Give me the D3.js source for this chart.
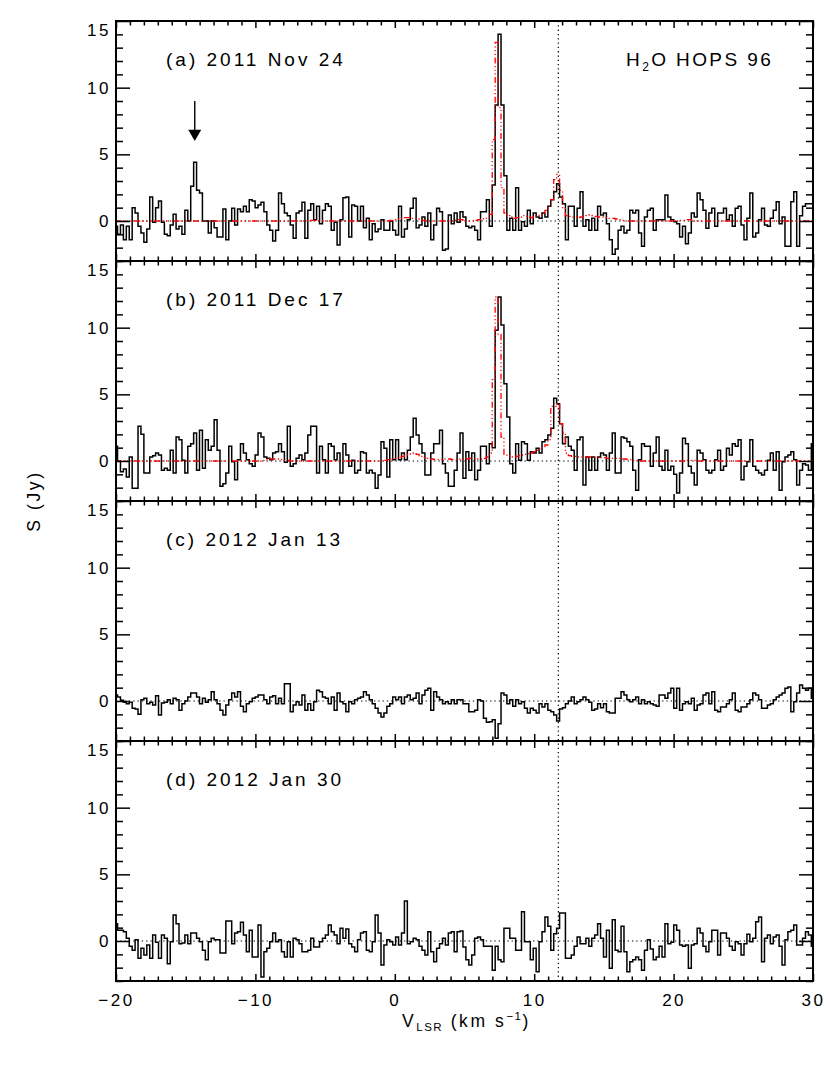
<!DOCTYPE html>
<html>
<head>
<meta charset="utf-8">
<script src="https://cdn.jsdelivr.net/npm/d3@7"></script>
<style>
  body { margin: 0; background: #fff; }
  text { font-family: "Liberation Sans", Arial, sans-serif; }
</style>
</head>
<body>
<div id="chart"></div>
<script>
// channel grid of the spectra (km/s): left edge of first channel and width
var chanStart = -20.1, chanWidth = 0.21;

// panel labels
var panelLabels = ["(a) 2011 Nov 24", "(b) 2011 Dec 17", "(c) 2012 Jan 13", "(d) 2012 Jan 30"];

// observed flux density (Jy) per channel
var specA = [
  -0.4, -1.0, -0.3, -1.4, -0.4, -1.4, 1.0, 0.6, -0.4, -0.9,
  -1.6, -0.6, 1.8, -0.1, 1.0, 1.5, -0.1, -1.0, -1.1, -0.3,
  0.5, -0.6, -0.4, -1.0, 0.8, 0.0, 2.6, 4.4, 2.3, 2.1,
  0.0, 0.0, -0.9, 0.0, -0.5, -1.2, -1.2, 0.9, -1.4, 0.0,
  0.95, -0.3, 0.9, 0.7, 1.1, 0.7, 1.6, 1.5, 1.0, 1.2,
  1.4, 0.7, -0.3, -0.7, -1.5, -0.7, 2.1, 1.3, 0.6, 0.4,
  -0.3, -1.3, 0.6, 0.75, 1.4, -1.3, 0.8, 1.3, 0.1, 1.1,
  -0.2, 0.8, 1.3, 1.1, -0.7, -0.1, -1.8, 0.1, 1.75, 1.8,
  -1.2, 1.2, 1.1, 0.0, 1.1, -0.5, 0.2, -1.4, -0.2, -0.8,
  -0.6, 0.1, -0.7, -0.7, 0.0, -0.7, -1.05, 1.1, -1.2, -0.6,
  0.1, 0.95, 1.7, -0.5, -0.3, 0.3, -0.4, 0.6, -1.4, -0.3,
  0.95, 0.7, -2.2, -2.1, 0.45, -0.2, 0.6, -0.1, 0.7, 0.3,
  -0.4, -0.5, -0.4, -0.7, -1.4, 0.7, 0.7, 1.6, -0.4, 2.7,
  8.7, 14.0, 8.7, 3.4, -0.7, 0.2, -0.7, 2.5, -0.7, -0.05,
  -0.4, 0.8, -0.2, 0.6, 0.3, 0.2, 0.6, 0.3, 1.1, 1.6,
  2.2, 2.8, 1.8, 1.3, -1.4, 1.1, 1.1, -0.4, 0.95, 2.2,
  -0.4, 0.1, -0.7, 0.2, -0.7, 1.1, 0.45, 0.6, -0.2, -1.4,
  -2.5, -2.1, -0.7, -0.4, -0.9, -0.7, 0.8, 0.6, 0.8, -0.9,
  -1.9, 0.3, 0.8, 0.95, -0.7, 0.1, 0.1, 0.1, 1.95, 0.3,
  0.1, -0.05, -0.2, -1.2, -0.4, -1.7, -0.9, 0.6, 0.3, 2.1,
  1.6, 0.8, -0.55, 0.6, 0.95, -0.4, 0.6, 0.6, 0.95, 0.1,
  0.45, -0.4, 0.95, 1.1, -0.3, -1.4, 0.2, 2.1, -1.2, -0.9,
  0.1, 0.95, -0.3, -0.4, 0.2, 0.8, 1.45, -0.2, 0.3, -1.9,
  -1.9, 1.45, 2.2, -1.9, 0.4, 1.1, 1.3, 1.3, 1.3
];
var specB = [
  1.1, 0.0, -0.8, -0.6, -1.2, 0.3, -2.05, -2.05, 2.6, 2.0,
  -0.9, -0.9, 0.3, 0.4, 0.6, 0.45, -0.7, -0.55, -0.7, 0.8,
  -0.9, 1.8, 1.6, 0.05, -0.9, 1.1, 1.3, 2.1, -0.7, 2.3,
  -0.55, 1.6, 0.8, 1.1, 3.1, 0.8, -1.9, -1.7, -0.9, 1.1,
  -0.05, -1.4, 0.1, 1.3, 0.6, 0.1, -0.2, -0.4, 0.45, 2.1,
  1.8, 0.3, 0.2, 0.1, 0.6, 0.7, 1.3, 0.7, -0.1, 2.6,
  -0.4, -0.2, 0.2, 0.45, 0.1, 0.6, 1.95, 2.6, 2.6, -0.9,
  1.1, 0.1, -0.9, 1.3, 1.1, 0.1, 0.6, -0.9, 1.3, 0.45,
  -0.4, 0.05, -0.9, -0.7, 0.7, 0.6, -0.9, -0.7, -0.9, -2.05,
  -1.05, 1.45, 0.95, -1.2, 1.6, 0.1, 1.6, 0.1, 0.6, 0.1,
  0.8, 1.8, 3.2, 1.95, 1.3, 0.6, -1.05, -1.05, 0.6, 1.3,
  1.3, 2.3, -0.2, -0.9, -1.9, -1.9, -0.7, 0.6, 2.1, -1.3,
  0.7, -0.7, 0.6, -1.4, -0.7, 1.1, 1.1, -0.2, 1.3, 1.0,
  9.8, 12.3, 10.2, 5.8, 3.3, -0.2, -0.9, 1.3, 0.05, 1.45,
  1.3, 0.05, 0.7, 0.6, 0.95, 0.6, 1.45, 1.6, 1.95, 2.45,
  4.7, 4.3, 2.8, 1.3, 1.8, 1.1, 0.8, -0.7, 1.6, 1.8,
  -1.8, 0.3, -0.7, 0.3, -0.7, 0.3, 0.6, 0.45, -0.7, 0.6,
  2.1, -0.9, -0.9, 1.8, 1.7, 1.45, 1.1, -0.7, -2.2, 0.1,
  1.3, 1.1, 1.1, -0.4, 0.6, 1.8, -0.4, -0.7, 0.8, -0.7,
  -0.4, -1.0, -2.4, -0.9, 1.7, 1.3, -0.4, -0.9, -1.8, 0.8,
  0.6, 0.1, -0.7, -0.9, -0.7, 0.1, 0.8, -0.7, -0.4, 0.95,
  0.45, 1.3, 1.1, 1.6, -1.4, -0.4, -0.05, 1.6, -0.4, -0.7,
  -0.9, -1.05, -0.7, 0.05, 0.6, -0.7, 0.7, -2.2, -0.05, 0.3,
  0.45, 0.7, 0.1, -1.8, -0.7, -0.2, -0.3, -0.7, 1.3
];
var specC = [
  0.45, 0.3, 0.05, -0.1, -0.2, -0.1, -0.55, -0.6, -1.0, 0.1,
  0.2, -0.2, -0.1, -0.3, 0.4, -1.05, -0.15, -0.1, 0.1, -0.2,
  0.2, 0.1, -0.7, -0.2, 0.0, 0.3, 0.6, 0.6, 0.3, -0.2,
  0.2, -0.1, 0.1, 0.7, 0.1, -0.2, -0.7, -1.05, -0.3, 0.1,
  0.6, 0.3, 0.7, -0.4, -0.8, -0.2, -0.05, 0.2, 0.3, 0.45,
  0.45, 0.1, -0.2, 0.3, 0.4, -0.2, 0.2, -0.2, 1.3, 1.3,
  -0.8, -0.3, -0.05, -0.3, 0.45, -0.7, -0.2, -0.7, -0.05, 0.8,
  0.7, 0.3, 0.2, -0.2, 0.3, -0.7, 0.6, -0.05, -0.2, -0.8,
  -0.05, -0.2, 0.1, 0.2, 0.3, 0.7, 0.45, 0.1, -0.2, -0.55,
  -0.9, -1.2, -0.9, -0.4, -0.2, 0.3, 0.1, 0.3, -0.2, 0.3,
  0.45, 0.1, 0.2, 0.6, -0.2, 0.45, 0.8, 0.95, -0.7, 0.7,
  0.3, 0.1, -0.2, -0.05, -0.2, 0.1, -0.2, 0.1, 0.1, -0.2,
  -0.2, -0.8, -0.8, -0.7, 0.1, 0.0, -1.3, -1.6, -1.55, -1.4,
  -2.8, -1.7, 0.6, 0.45, -0.2, 0.1, -0.4, 0.1, -0.2, -0.05,
  -0.55, -0.9, -0.55, -0.7, -0.9, -0.2, -0.45, -0.2, -0.7, -0.8,
  -1.05, -1.5, -0.6, -0.5, -0.2, 0.0, 0.3, -0.2, -0.05, 0.1,
  0.3, 0.1, -0.1, -0.7, -0.6, -0.2, -0.5, -0.2, -0.8, -0.9,
  -0.9, 0.2, 0.2, 0.7, 0.45, 0.1, -0.05, 0.1, 0.3, -0.2,
  0.1, -0.2, -0.05, -0.2, -0.3, -0.4, 0.45, 0.45, 0.2, 0.6,
  0.95, -0.55, 0.95, -0.7, -0.2, -0.05, -0.2, 0.2, -0.7, -0.3,
  -0.2, 0.45, 0.6, -0.2, 0.7, -0.7, -0.8, -0.45, -0.45, -0.2,
  0.1, 0.6, -0.7, -0.8, -0.45, -0.45, -0.2, 0.1, 0.6, 0.45,
  0.1, -0.55, -0.55, -0.3, -0.2, 0.1, 0.3, 0.45, 0.6, 0.95,
  1.05, -0.8, -0.05, 0.6, 1.2, 0.95, 0.8, 0.95, 0.2
];
var specD = [
  1.3, 0.8, 0.8, 0.7, 0.2, -0.4, -0.7, 0.1, -1.3, -0.55,
  -1.05, -0.3, -1.3, 0.45, -0.1, -1.3, 0.45, 0.2, -1.7, -0.05,
  1.95, 1.3, -0.2, -0.15, 0.45, -0.2, 0.6, 0.6, 0.2, -0.05,
  -0.7, -1.4, -0.05, 0.2, 0.1, 0.1, -0.9, -0.9, 1.5, 1.5,
  -0.2, 0.6, 0.7, 1.4, 0.45, -0.8, 0.8, -1.2, -1.2, 1.2,
  -2.7, -0.8, -0.55, -0.05, 0.6, -0.05, 0.1, -0.8, -1.2, -0.05,
  -1.2, 0.2, 0.1, -0.2, -0.8, -0.8, -0.7, 0.2, -0.45, -0.45,
  -0.05, 0.2, 0.45, 1.2, 0.7, 0.45, -0.2, 0.95, 0.2, 0.9,
  -0.2, -0.45, -0.8, 0.1, 0.6, 0.7, -0.7, -0.8, -0.05, 1.95,
  0.6, -1.8, -0.3, 0.1, -0.05, -0.3, 0.3, -0.3, 0.6, 3.0,
  -0.2, -0.05, 0.2, 0.1, -0.4, -0.7, -1.05, 0.7, -0.8, -1.55,
  -0.55, -0.2, 0.2, -0.3, 0.6, 0.7, -0.8, 0.7, 0.75, -0.45,
  -1.4, -1.8, -1.05, 0.2, 0.3, 0.1, -0.4, -0.4, -0.4, -2.2,
  -0.4, -1.4, -1.55, 0.95, 0.95, 0.2, 0.2, -0.7, -0.7, 2.2,
  -0.05, -0.05, -1.4, -0.55, -2.3, -0.05, 0.7, 1.8, 1.1, -0.7,
  0.55, 0.95, 2.1, 2.1, -1.3, -1.3, -1.05, -0.4, 0.3, -0.2,
  -0.2, 0.2, -0.4, 0.2, 0.45, 1.3, 0.2, -1.2, 0.8, -2.05,
  1.6, -0.7, -0.8, 1.1, -0.8, -2.3, -1.55, -1.4, -1.2, -1.4,
  -2.2, -0.7, 0.1, -0.6, -1.4, -1.2, -0.4, -1.2, 1.3, -0.2,
  -0.1, 1.2, 0.8, -0.3, -0.4, -0.3, -2.05, -0.3, -0.2, 0.95,
  0.6, -0.4, -0.8, -0.05, 0.8, 0.8, -1.05, 0.6, 0.6, 0.2,
  -0.4, -0.7, -0.05, -0.2, -1.05, -0.2, 0.5, -0.05, 0.2, 1.45,
  1.8, -1.55, 0.2, 0.45, -0.2, 0.3, 0.45, -0.4, -1.8, 0.1,
  0.7, 0.8, 1.2, -0.3, -0.3, 0.2, 0.7, 0.45, -0.4
];

// red model spectra for (a) and (b)
var modelA = [
  0, 0, 0, 0, 0, 0, 0, 0, 0, 0,
  0, 0, 0, 0, 0, 0, 0, 0, 0, 0,
  0, 0, 0, 0, 0, 0, 0, 0, 0, 0,
  0, 0, 0, 0, 0, 0, 0, 0, 0, 0,
  0, 0, 0, 0, 0, 0, 0, 0, 0, 0,
  0, 0, 0, 0, 0, 0, 0, 0, 0, 0,
  0, 0, 0, 0, 0, 0, 0, 0.05, 0.05, 0.05,
  0.05, 0, 0, 0, 0, 0, 0, 0, 0, 0,
  0, 0, 0, 0, 0, 0, 0, 0, 0, 0,
  0, 0, 0, 0, 0.05, 0.1, 0.15, 0.2, 0.2, 0.25,
  0.25, 0.2, 0.2, 0.15, 0.1, 0.05, 0, 0, 0, 0,
  0, 0, 0, 0, 0, 0, 0.05, 0.1, 0.1, 0.05,
  0, 0, 0, 0.05, 0.1, 0.1, 0.15, 0.2, 0.5, 6.1,
  13.4, 8.5, 2.5, 0.6, 0.4, 0.3, 0.2, 0.25, 0.3, 0.4,
  0.35, 0.3, 0.25, 0.3, 0.4, 0.5, 0.6, 0.8, 1.1, 1.6,
  3.1, 3.5, 2.3, 1.0, 0.4, 0.35, 0.3, 0.3, 0.25, 0.3,
  0.35, 0.4, 0.45, 0.4, 0.35, 0.3, 0.3, 0.25, 0.2, 0.2,
  0.2, 0.15, 0.1, 0.05, 0, 0, 0, 0, 0, 0,
  0, 0, 0, 0, 0, 0, 0, 0, 0, 0,
  0, 0, 0, 0.05, 0.05, 0.1, 0.1, 0.05, 0, 0,
  0, 0, 0, 0, 0, 0, 0, 0, 0, 0,
  0, 0, 0, 0, 0, 0, 0, 0, 0, 0,
  0, 0, 0, 0, 0, 0, 0, 0, 0, 0,
  0, 0, 0, 0, 0, 0, 0, 0, 0
];
var modelB = [
  0, 0, 0, 0, 0, 0, 0, 0, 0, 0,
  0, 0, 0, 0, 0, 0, 0, 0, 0, 0,
  0, 0, 0, 0, 0, 0, 0, 0, 0, 0,
  0, 0, 0, 0, 0, 0, 0, 0, 0, 0,
  0, 0, 0, 0, 0, 0, 0, 0, 0, 0,
  0.05, 0.1, 0.1, 0.15, 0.15, 0.15, 0.1, 0.1, 0.05, 0.05,
  0, 0, 0, 0, 0, 0, 0, 0, 0, 0,
  0, 0, 0, 0, 0, 0, 0, 0, 0, 0,
  0, 0, 0, 0, 0, 0, 0, 0, 0, 0,
  0, 0, 0.05, 0.1, 0.15, 0.2, 0.25, 0.3, 0.35, 0.45,
  0.5, 0.55, 0.6, 0.5, 0.35, 0.25, 0.2, 0.15, 0.15, 0.1,
  0.1, 0.1, 0.15, 0.15, 0.15, 0.1, 0.1, 0.1, 0.15, 0.15,
  0.15, 0.2, 0.2, 0.2, 0.15, 0.15, 0.2, 0.3, 0.6, 6.1,
  12.3, 9.5, 1.8, 0.5, 0.4, 0.3, 0.3, 0.35, 0.4, 0.45,
  0.5, 0.55, 0.6, 0.7, 0.8, 0.9, 1.0, 1.2, 1.6, 4.1,
  4.1, 4.3, 2.8, 2.1, 0.6, 0.4, 0.35, 0.35, 0.3, 0.3,
  0.3, 0.3, 0.3, 0.3, 0.3, 0.3, 0.25, 0.25, 0.2, 0.2,
  0.2, 0.2, 0.2, 0.15, 0.15, 0.1, 0.1, 0.05, 0.05, 0,
  0, 0, 0, 0, 0, 0, 0, 0, 0, 0,
  0, 0, 0, 0, 0, 0.05, 0.05, 0.05, 0.05, 0,
  0, 0, 0, 0, 0, 0, 0, 0, 0, 0,
  0, 0, 0, 0, 0, 0, 0, 0, 0, 0,
  0, 0, 0, 0, 0, 0, 0, 0, 0, 0,
  0, 0, 0, 0, 0, 0, 0, 0, 0
];

var spectra = [specA, specB, specC, specD];
var models = [modelA, modelB, null, null];

var xMajor = [-20, -10, 0, 10, 20, 30];
var yMajor = [0, 5, 10, 15];
var vMark = 11.73;        // dotted reference velocity
var vArrow = -14.35;      // arrow in panel (a)

// set the dimensions and margins of the graph
var margin = { top: 21, left: 116 },
    width = 697,
    panelH = 240;

var svg = d3.select("#chart")
    .append("svg")
    .attr("width", 830)
    .attr("height", 1068);

var x = d3.scaleLinear().domain([-20, 30]).range([0, width]);
var y = d3.scaleLinear().domain([-3, 15]).range([panelH, 0]);

var xMinor = d3.range(-20, 31).filter(function (d) { return d % 10 !== 0; });
var yMinor = d3.range(-3, 16).filter(function (d) { return d % 5 !== 0; });

svg.append("defs").append("clipPath")
    .attr("id", "clip")
    .append("rect")
    .attr("width", width)
    .attr("height", panelH);

function steps(vals) {
    var pts = vals.map(function (v, i) { return [chanStart + i * chanWidth, v]; });
    pts.push([chanStart + vals.length * chanWidth, vals[vals.length - 1]]);
    return pts;
}

var line = d3.line()
    .x(function (d) { return x(d[0]); })
    .y(function (d) { return y(d[1]); })
    .curve(d3.curveStepAfter);

function styleAxis(g) {
    g.select(".domain").remove();
    g.selectAll(".tick line").attr("stroke", "#000").attr("stroke-width", 1.5);
    g.attr("font-family", null).attr("font-size", null);
    g.selectAll("text")
        .attr("fill", "#000")
        .style("font-size", "17px")
        .style("letter-spacing", "2.5px");
}

spectra.forEach(function (spec, p) {
    var g = svg.append("g")
        .attr("transform", "translate(" + margin.left + "," + (margin.top + p * panelH) + ")");

    var plot = g.append("g").attr("clip-path", "url(#clip)");

    // zero line
    plot.append("line")
        .attr("x1", 0).attr("x2", width)
        .attr("y1", y(0)).attr("y2", y(0))
        .attr("stroke", "#000")
        .attr("stroke-width", 1.2)
        .attr("stroke-dasharray", "1.3,3");

    // observed spectrum
    plot.append("path")
        .datum(steps(spec))
        .attr("fill", "none")
        .attr("stroke", "#000")
        .attr("stroke-width", 1.5)
        .attr("d", line);

    // model
    if (models[p]) {
        plot.append("path")
            .datum(steps(models[p]))
            .attr("fill", "none")
            .attr("stroke", "#ff0000")
            .attr("stroke-width", 1.3)
            .attr("stroke-dasharray", "6,2.5,1.2,2.5,1.2,2.5,1.2,2.5")
            .attr("d", line);
    }

    // axes: ticks pointing inward
    g.append("g")
        .call(d3.axisLeft(y).tickValues(yMajor).tickSize(-14).tickSizeOuter(0).tickPadding(5))
        .call(styleAxis)
        .selectAll("text")
        .filter(function (d) { return d === 15; })
        .attr("dy", "0.85em");
    g.append("g")
        .call(d3.axisLeft(y).tickValues(yMinor).tickSize(-7).tickSizeOuter(0).tickFormat(""))
        .call(styleAxis);
    g.append("g")
        .attr("transform", "translate(" + width + ",0)")
        .call(d3.axisRight(y).tickValues(yMajor).tickSize(-14).tickSizeOuter(0).tickFormat(""))
        .call(styleAxis);
    g.append("g")
        .attr("transform", "translate(" + width + ",0)")
        .call(d3.axisRight(y).tickValues(yMinor).tickSize(-7).tickSizeOuter(0).tickFormat(""))
        .call(styleAxis);
    g.append("g")
        .call(d3.axisTop(x).tickValues(xMajor).tickSize(-7).tickSizeOuter(0).tickFormat(""))
        .call(styleAxis);
    g.append("g")
        .call(d3.axisTop(x).tickValues(xMinor).tickSize(-4.5).tickSizeOuter(0).tickFormat(""))
        .call(styleAxis);
    var xb = d3.axisBottom(x).tickValues(xMajor).tickSize(-7).tickSizeOuter(0).tickPadding(13);
    if (p < 3) xb.tickFormat("");
    g.append("g")
        .attr("transform", "translate(0," + panelH + ")")
        .call(xb)
        .call(styleAxis);
    g.append("g")
        .attr("transform", "translate(0," + panelH + ")")
        .call(d3.axisBottom(x).tickValues(xMinor).tickSize(-4.5).tickSizeOuter(0).tickFormat(""))
        .call(styleAxis);

    // frame
    g.append("rect")
        .attr("width", width)
        .attr("height", panelH)
        .attr("fill", "none")
        .attr("stroke", "#000")
        .attr("stroke-width", 2);

    // panel label
    g.append("text")
        .attr("x", 50)
        .attr("y", 45)
        .style("font-size", "19px")
        .style("letter-spacing", "3px")
        .text(panelLabels[p]);

    if (p === 0) {
        var t = g.append("text")
            .attr("x", 510)
            .attr("y", 45)
            .style("font-size", "19px")
            .style("letter-spacing", "2.4px");
        t.append("tspan").text("H");
        t.append("tspan").attr("dy", 5).style("font-size", "12px").text("2");
        t.append("tspan").attr("dy", -5).text("O HOPS 96");

        // arrow marking the -14 km/s feature
        var ax = x(vArrow);
        g.append("line")
            .attr("x1", ax).attr("x2", ax)
            .attr("y1", y(9.0)).attr("y2", y(6.8))
            .attr("stroke", "#000")
            .attr("stroke-width", 1.4);
        g.append("path")
            .attr("d", "M" + (ax - 6.5) + "," + y(6.85) + "L" + (ax + 6.5) + "," + y(6.85) + "L" + ax + "," + y(6.0) + "Z")
            .attr("fill", "#000");
    }
});

// vertical dotted line through all panels
svg.append("line")
    .attr("x1", margin.left + x(vMark)).attr("x2", margin.left + x(vMark))
    .attr("y1", margin.top).attr("y2", margin.top + 4 * panelH)
    .attr("stroke", "#000")
    .attr("stroke-width", 1.2)
    .attr("stroke-dasharray", "1.3,3");

// axis titles
var xt = svg.append("text")
    .attr("x", margin.left + width / 2 + 2)
    .attr("y", 1027)
    .attr("text-anchor", "middle")
    .style("font-size", "17.5px")
    .style("letter-spacing", "2.6px");
xt.append("tspan").text("V");
xt.append("tspan").attr("dy", 4).style("font-size", "11.5px").style("letter-spacing", "1.5px").text("LSR");
xt.append("tspan").attr("dy", -4).text(" (km s");
xt.append("tspan").attr("dy", -7).style("font-size", "11.5px").style("letter-spacing", "1.5px").text("\u22121");
xt.append("tspan").attr("dy", 7).text(")");

svg.append("text")
    .attr("transform", "translate(40," + (margin.top + 2 * panelH) + ") rotate(-90)")
    .attr("text-anchor", "middle")
    .style("font-size", "17.5px")
    .style("letter-spacing", "2.6px")
    .text("S (Jy)");
</script>
</body>
</html>
